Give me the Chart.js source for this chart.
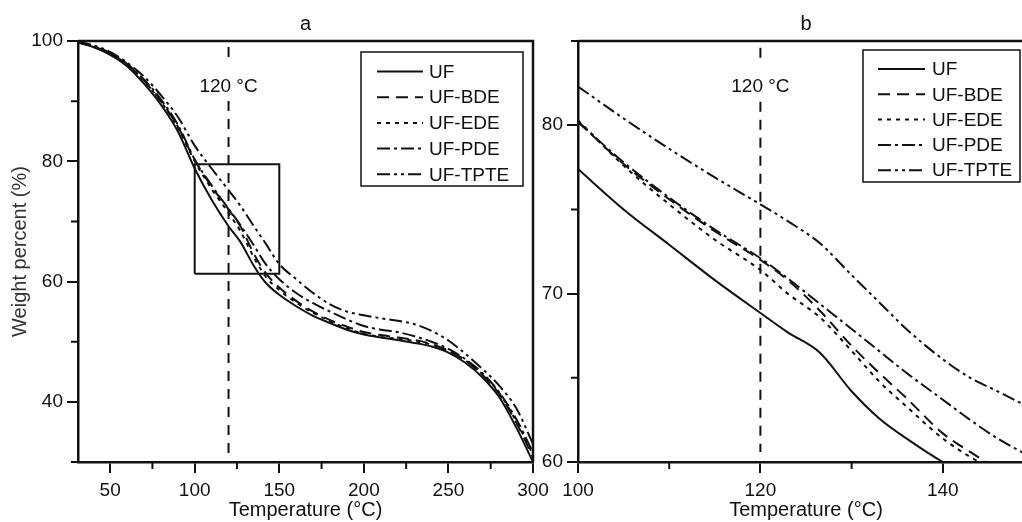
<!DOCTYPE html>
<html>
<head>
<meta charset="utf-8">
<script src="https://cdn.jsdelivr.net/npm/chart.js@4.4.1/dist/chart.umd.min.js"></script>
<style>
  html, body { margin: 0; padding: 0; background: #fff; overflow: hidden; }
  #wrap { position: relative; width: 1022px; height: 522px; overflow: hidden; }
  #chartA { position: absolute; left: 0; top: 0; }
  #chartB { position: absolute; left: 535px; top: 0; }
</style>
</head>
<body>
<div id="wrap">
  <canvas id="chartA" width="560" height="522"></canvas>
  <canvas id="chartB" width="520" height="522"></canvas>
</div>
<script>
// series names
const names = ['UF', 'UF-BDE', 'UF-EDE', 'UF-PDE', 'UF-TPTE'];

// panel a: full TGA curves
const tempA = [31, 40, 50, 60, 70, 80, 90, 100, 110, 120, 127, 135, 142, 150, 160, 170, 180, 190, 200, 210, 220, 230, 240, 250, 260, 270, 280, 290, 300];
const ufA   = [99.7, 99.0, 97.7, 95.8, 92.9, 89.4, 85.0, 78.8, 73.6, 69.2, 66.6, 62.6, 59.8, 57.8, 55.9, 54.3, 53.1, 52.0, 51.2, 50.7, 50.3, 49.8, 49.2, 48.2, 46.5, 44.1, 40.8, 35.8, 30.0];
const bdeA  = [99.8, 99.1, 97.9, 96.1, 93.4, 90.0, 85.8, 80.2, 75.8, 72.0, 69.2, 64.6, 61.4, 59.0, 56.8, 55.0, 53.6, 52.5, 51.6, 51.1, 50.7, 50.3, 49.6, 48.5, 46.9, 44.5, 41.3, 36.6, 30.8];
const edeA  = [99.8, 99.1, 97.9, 96.0, 93.3, 89.9, 85.6, 80.0, 75.4, 71.4, 68.4, 64.0, 60.8, 58.6, 56.5, 54.8, 53.4, 52.2, 51.3, 50.8, 50.5, 50.1, 49.5, 48.5, 46.9, 44.6, 41.5, 36.8, 31.2];
const pdeA  = [99.8, 99.2, 98.0, 96.2, 93.6, 90.3, 86.1, 80.3, 76.0, 72.1, 69.4, 66.0, 62.9, 60.4, 58.1, 56.4, 55.0, 53.7, 52.6, 52.0, 51.6, 50.9, 50.0, 48.8, 47.1, 44.8, 41.6, 37.2, 31.6];
const tpteA = [99.9, 99.3, 98.2, 96.4, 94.1, 91.0, 87.4, 82.6, 78.8, 75.2, 72.6, 69.2, 66.3, 62.9, 60.4, 58.1, 56.2, 55.0, 54.4, 53.9, 53.5, 52.9, 51.8, 50.2, 48.0, 45.5, 42.7, 39.0, 33.0];

// panel b: enlarged 100-150 degC
const tempB = [100, 105, 110, 115, 120, 123, 126.5, 130, 133, 136, 140, 143, 146, 150];
const ufB   = [77.4, 75.0, 72.9, 70.8, 68.85, 67.7, 66.5, 64.2, 62.6, 61.4, 60.0, 59.2, 58.5, 57.7];
const bdeB  = [80.2, 77.7, 75.6, 73.7, 72.0, 70.8, 69.0, 66.9, 65.3, 63.8, 61.7, 60.6, 59.6, 58.5];
const edeB  = [80.3, 77.6, 75.3, 73.2, 71.4, 70.0, 68.6, 66.6, 64.8, 63.3, 61.4, 60.3, 59.4, 58.3];
const pdeB  = [80.2, 77.8, 75.7, 73.8, 72.1, 70.9, 69.4, 67.9, 66.6, 65.3, 63.7, 62.5, 61.4, 60.2];
const tpteB = [82.3, 80.4, 78.6, 76.9, 75.3, 74.3, 73.0, 71.1, 69.5, 67.9, 66.1, 65.0, 64.2, 63.1];

// axes ticks
const xTicksA = [50, 100, 150, 200, 250, 300];
const xMinorA = [75, 125, 175, 225, 275];
const yTicksA = [40, 60, 80, 100];
const yMinorA = [30, 50, 70, 90];
const xTicksB = [100, 120, 140];
const xMinorB = [110, 130, 150];
const yTicksB = [60, 70, 80];
const yMinorB = [65, 75, 85];

// marker line at 120 degC and zoom box drawn in panel a
const refTemp = 120;
const refLabel = '120 \u00B0C';
const zoomBoxX = [100, 150];
const zoomBoxY = [61.3, 79.5];

const dashes = [[], [12, 7], [4, 5], [13, 4, 3, 4], [13, 4, 3, 4, 3, 4]];
const ink = '#111';

Chart.defaults.font.family = '"Liberation Sans", Arial, sans-serif';
Chart.defaults.font.size = 19;
Chart.defaults.color = ink;

function curve(label, xs, ys, dash) {
  return {
    label: label,
    data: xs.map((x, i) => ({ x: x, y: ys[i] })),
    borderColor: ink,
    borderWidth: 2,
    borderDash: dash,
    pointRadius: 0,
    cubicInterpolationMode: 'monotone',
    clip: 0
  };
}

function helper(points, dash) {
  return {
    helper: true,
    data: points,
    borderColor: ink,
    borderWidth: 2,
    borderDash: dash,
    pointRadius: 0,
    tension: 0,
    clip: 0
  };
}

// frame, minor ticks, 120 degC label and the boxed legend
const panelDecor = {
  id: 'panelDecor',
  afterDraw(chart, args, opts) {
    const { ctx, chartArea: a, scales: { x, y } } = chart;
    ctx.save();
    ctx.strokeStyle = ink;
    ctx.lineWidth = 2.5;
    ctx.beginPath();
    ctx.moveTo(a.left, a.top);
    ctx.lineTo(a.right, a.top);
    ctx.lineTo(a.right, a.bottom);
    ctx.stroke();

    ctx.lineWidth = 2;
    ctx.beginPath();
    opts.minorX.forEach(v => {
      const px = x.getPixelForValue(v);
      ctx.moveTo(px, a.bottom);
      ctx.lineTo(px, a.bottom + 7);
    });
    opts.minorY.forEach(v => {
      const py = y.getPixelForValue(v);
      ctx.moveTo(a.left, py);
      ctx.lineTo(a.left - 7, py);
    });
    ctx.stroke();

    // label on the 120 degC line
    ctx.font = '19px "Liberation Sans", Arial, sans-serif';
    ctx.textBaseline = 'middle';
    ctx.textAlign = 'center';
    const rx = x.getPixelForValue(refTemp);
    const tw = ctx.measureText(refLabel).width;
    ctx.fillStyle = '#fff';
    ctx.fillRect(rx - tw / 2 - 3, opts.refY - 26, tw + 6, 40);
    ctx.fillStyle = ink;
    ctx.fillText(refLabel, rx, opts.refY);

    // legend
    const L = opts.legend;
    ctx.fillStyle = '#fff';
    ctx.fillRect(L.x, L.y, L.w, L.h);
    ctx.lineWidth = 1.5;
    ctx.strokeRect(L.x, L.y, L.w, L.h);
    ctx.textAlign = 'left';
    const sets = chart.data.datasets.filter(d => !d.helper);
    sets.forEach((d, i) => {
      const yy = L.row0 + i * L.step;
      ctx.lineWidth = 2;
      ctx.setLineDash(d.borderDash || []);
      ctx.beginPath();
      ctx.moveTo(L.s0, yy);
      ctx.lineTo(L.s1, yy);
      ctx.stroke();
      ctx.setLineDash([]);
      ctx.fillStyle = ink;
      ctx.fillText(d.label, L.tx, yy + 1);
    });
    ctx.restore();
  }
};

function axes(xmin, xmax, xt, ymin, ymax, yt, yWidth, showYTitle) {
  const grid = { drawOnChartArea: false, drawTicks: true, tickLength: 11, lineWidth: 2, color: ink };
  const border = { color: ink, width: 2.5 };
  return {
    x: {
      type: 'linear', min: xmin, max: xmax,
      afterBuildTicks: s => { s.ticks = xt.map(v => ({ value: v })); },
      afterFit: s => { s.height = 60; },
      grid: grid, border: border,
      ticks: { padding: 6, color: ink, font: { size: 19 } },
      title: { display: true, text: 'Temperature (\u00B0C)', color: ink, font: { size: 20 }, padding: { top: 0, bottom: 0 } }
    },
    y: {
      type: 'linear', min: ymin, max: ymax,
      afterBuildTicks: s => { s.ticks = yt.map(v => ({ value: v })); },
      afterFit: s => { s.width = yWidth; },
      grid: grid, border: border,
      ticks: { padding: 4, color: ink, font: { size: 19 } },
      title: { display: showYTitle, text: 'Weight percent (%)', color: '#333', font: { size: 20 }, padding: { top: 8, bottom: 0 } }
    }
  };
}

const seriesA = [ufA, bdeA, edeA, pdeA, tpteA];
new Chart(document.getElementById('chartA'), {
  type: 'line',
  data: {
    datasets: names.map((n, i) => curve(n, tempA, seriesA[i], dashes[i])).concat([
      helper([{ x: refTemp, y: 99 }, { x: refTemp, y: 31.5 }], [10, 8]),
      helper([
        { x: zoomBoxX[0], y: zoomBoxY[0] }, { x: zoomBoxX[0], y: zoomBoxY[1] },
        { x: zoomBoxX[1], y: zoomBoxY[1] }, { x: zoomBoxX[1], y: zoomBoxY[0] },
        { x: zoomBoxX[0], y: zoomBoxY[0] }
      ], [])
    ])
  },
  options: {
    responsive: false,
    animation: false,
    layout: { padding: { left: 0, right: 27, top: 0, bottom: 0 } },
    scales: axes(31, 300, xTicksA, 30, 100, yTicksA, 78, true),
    plugins: {
      legend: { display: false },
      tooltip: { enabled: false },
      title: { display: true, text: 'a', fullSize: false, color: ink, font: { size: 20, weight: 'normal' }, padding: { top: 12, bottom: 5 } },
      panelDecor: {
        minorX: xMinorA, minorY: yMinorA, refY: 87,
        legend: { x: 361, y: 52, w: 162, h: 134, row0: 71.5, step: 25.7, s0: 377, s1: 423, tx: 429 }
      }
    }
  },
  plugins: [panelDecor]
});

const seriesB = [ufB, bdeB, edeB, pdeB, tpteB];
new Chart(document.getElementById('chartB'), {
  type: 'line',
  data: {
    datasets: names.map((n, i) => curve(n, tempB, seriesB[i], dashes[i])).concat([
      helper([{ x: refTemp, y: 84.6 }, { x: refTemp, y: 60.6 }], [10, 8])
    ])
  },
  options: {
    responsive: false,
    animation: false,
    layout: { padding: { left: 0, right: 21, top: 0, bottom: 0 } },
    scales: axes(100, 150, xTicksB, 60, 85, yTicksB, 43, false),
    plugins: {
      legend: { display: false },
      tooltip: { enabled: false },
      title: { display: true, text: 'b', fullSize: false, color: ink, font: { size: 20, weight: 'normal' }, padding: { top: 12, bottom: 5 } },
      panelDecor: {
        minorX: xMinorB, minorY: yMinorB, refY: 87,
        legend: { x: 328, y: 50, w: 157, h: 132, row0: 69, step: 25.3, s0: 343, s1: 390, tx: 397 }
      }
    }
  },
  plugins: [panelDecor]
});
</script>
</body>
</html>
